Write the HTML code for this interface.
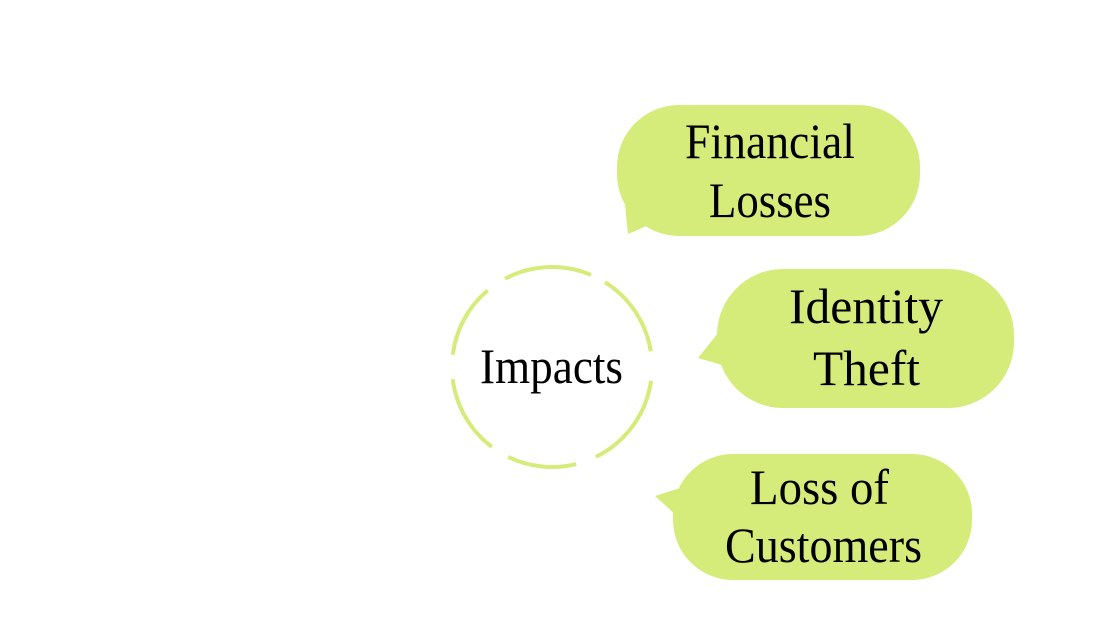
<!DOCTYPE html>
<html><head><meta charset="utf-8"><style>
html,body{margin:0;padding:0;background:#fff;width:1110px;height:624px;overflow:hidden}
text{font-family:"Liberation Serif",serif;font-size:50px;fill:#000}
</style></head><body>
<svg width="1110" height="624" viewBox="0 0 1110 624">
<g id="ring"></g>
<text x="480" y="383" textLength="143" lengthAdjust="spacingAndGlyphs">Impacts</text>
<g>
<rect x="617" y="105" width="303" height="131" rx="62" fill="#d5eb7a"/>
<polygon points="625,205 628,234 660,220 640,190" fill="#d5eb7a"/>
<text x="685" y="158" textLength="170" lengthAdjust="spacingAndGlyphs">Financial</text>
<text x="709" y="217" textLength="122" lengthAdjust="spacingAndGlyphs">Losses</text>
</g>
<g>
<rect x="717" y="269" width="297" height="139" rx="66" fill="#d5eb7a"/>
<polygon points="718,333 698,358 722,365 730,340" fill="#d5eb7a"/>
<text x="789" y="323" textLength="154" lengthAdjust="spacingAndGlyphs">Identity</text>
<text x="813" y="385" textLength="107" lengthAdjust="spacingAndGlyphs">Theft</text>
</g>
<g>
<rect x="673" y="454" width="299" height="126" rx="60" fill="#d5eb7a"/>
<polygon points="680,488 655,496 676,515 690,495" fill="#d5eb7a"/>
<text x="750" y="504" textLength="139" lengthAdjust="spacingAndGlyphs">Loss of</text>
<text x="725" y="562" textLength="197" lengthAdjust="spacingAndGlyphs">Customers</text>
</g>
</svg>
<script>
const segs=[[9,58],[67,118],[130,173],[187,233],[244,284],[296,352]];
const cx=552,cy=367,r=100;
const g=document.getElementById('ring');
segs.forEach(s=>{
 const a1=s[0]*Math.PI/180,a2=s[1]*Math.PI/180;
 const p=document.createElementNS('http://www.w3.org/2000/svg','path');
 p.setAttribute('d',`M${cx+r*Math.cos(a1)},${cy-r*Math.sin(a1)} A${r},${r} 0 0 0 ${cx+r*Math.cos(a2)},${cy-r*Math.sin(a2)}`);
 p.setAttribute('fill','none');p.setAttribute('stroke','#d5eb7a');p.setAttribute('stroke-width','4');
 
 
 g.appendChild(p);
});
</script>
</body></html>
